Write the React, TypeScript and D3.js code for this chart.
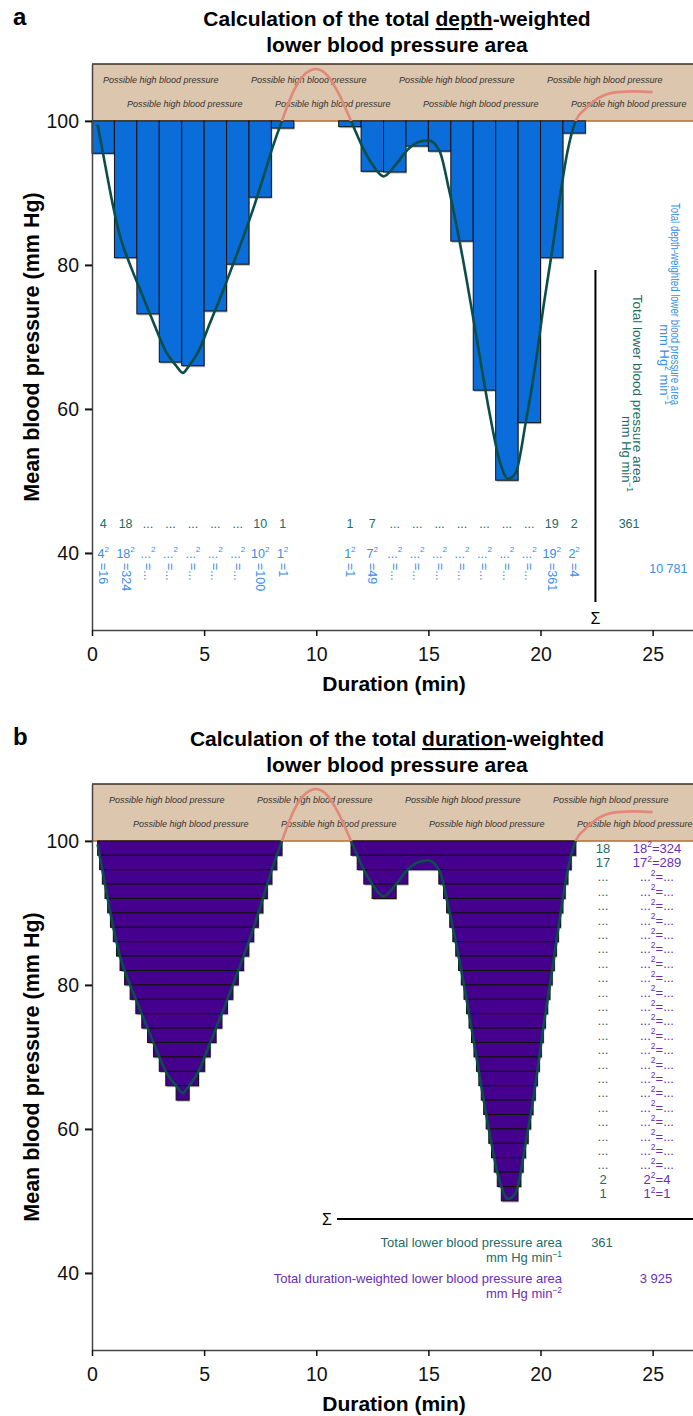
import React, { useEffect, useRef } from 'react';
import * as d3 from 'd3';

// blood pressure trace
const traceMin = [0.25, 0.46, 0.70, 0.95, 1.25, 1.70, 2.22, 2.74, 3.29, 3.75, 4.05, 4.33, 4.75, 5.27, 5.79, 6.28, 6.76, 7.21, 7.62, 8.02,
  8.47, 9.0, 9.5, 10.0, 10.5, 11.0, 11.55, 12.12, 12.49, 13.0, 13.56, 14.08, 14.5, 15.0, 15.5, 15.91, 16.51, 17.11, 17.70, 18.2,
  18.55, 18.89, 19.34, 19.79, 20.16, 20.53, 20.9, 21.2, 21.57, 21.94, 22.54, 23.43, 24.18, 25.0];
const traceBP = [99.5, 96, 92, 88, 84, 80, 76, 72, 68, 66, 65, 66, 68, 72, 76, 80, 84, 88, 92, 96,
  100, 104.2, 106.5, 107.2, 106.3, 103.8, 100, 96, 94, 92.3, 94, 96, 97.0, 97.3, 95.8, 90.6, 81.3, 70.6, 59.9, 52.5,
  50.3, 51.1, 58.1, 66.5, 74.8, 82.2, 90.1, 95.7, 100, 101.5, 103.1, 104.0, 104.1, 104.0];

// panel a: one-minute bars
const barStart = [0, 1, 2, 3, 4, 5, 6, 7, 8, 11, 12, 13, 14, 15, 16, 17, 18, 19, 20, 21];
const barBP = [95.5, 81.0, 73.2, 66.5, 66.0, 73.6, 80.1, 89.4, 99.0, 99.2, 93.0, 92.9, 96.5, 95.8, 83.3, 62.6, 50.1, 58.1, 81.0, 98.3];
const barDepth = ['4', '18', '...', '...', '...', '...', '...', '10', '1', '1', '7', '...', '...', '...', '...', '...', '...', '...', '19', '2'];
const barSquare = ['=16', '=324', '=...', '=...', '=...', '=...', '=...', '=100', '=1', '=1', '=49', '=...', '=...', '=...', '=...', '=...', '=...', '=...', '=361', '=4'];

// panel b: 2 mm Hg strips and their counts
const stripLevels = [100, 98, 96, 94, 92, 90, 88, 86, 84, 82, 80, 78, 76, 74, 72, 70, 68, 66, 64, 62, 60, 58, 56, 54, 52];
const stripCount = ['18', '17', '...', '...', '...', '...', '...', '...', '...', '...', '...', '...', '...', '...', '...', '...', '...', '...', '...', '...', '...', '...', '...', '2', '1'];
const stripSquare = ['324', '289', '...', '...', '...', '...', '...', '...', '...', '...', '...', '...', '...', '...', '...', '...', '...', '...', '...', '...', '...', '...', '...', '4', '1'];

const yTicks = [40, 60, 80, 100];
const xTicks = [0, 5, 10, 15, 20, 25];
const totalArea = '361';
const totalDepthWeighted = '10 781';
const totalDurationWeighted = '3 925';

const FONT = "'Liberation Sans', Arial, Helvetica, sans-serif";
const GREEN = '#236b64';
const BLUE = '#3a8de4';
const PURPLE = '#6a2db5';

const App = () => {
  const svgRef = useRef<SVGSVGElement>(null);

  useEffect(() => {
    document.body.style.margin = '0';
    const svg = d3.select(svgRef.current);
    svg.selectAll('*').remove();
    svg.attr('font-family', FONT);

    const x = d3.scaleLinear().domain([0, 26.8]).range([92, 693]);
    const defs = svg.append('defs');

    // text with superscripts: parts = [text, isSup]
    const supText = (g: any, px: number, py: number, parts: [string, boolean][], size: number, color: string, anchor = 'middle') => {
      const t = g.append('text').attr('x', px).attr('y', py).attr('text-anchor', anchor)
        .attr('font-size', size).attr('fill', color);
      const rise = size * 0.42;
      let raised = false;
      parts.forEach(([s, sup]) => {
        let dy = 0;
        if (sup && !raised) { dy = -rise; raised = true; }
        else if (!sup && raised) { dy = rise; raised = false; }
        t.append('tspan').attr('font-size', sup ? size * 0.65 : size).attr('dy', dy).text(s);
      });
      return t;
    };

    const panels = [{ off: 0, id: 'a' }, { off: 720, id: 'b' }];
    panels.forEach(p => {
      const y = d3.scaleLinear().domain([29.3, 107.9]).range([630 + p.off, 64 + p.off]);
      const yTop = y(107.9), y100 = y(100);

      const gBand = svg.append('g');
      const gMarks = svg.append('g');
      const gCurve = svg.append('g');
      const gText = svg.append('g');

      // panel letter and title
      gText.append('text').attr('x', 13).attr('y', 25 + p.off).attr('font-size', 24)
        .attr('font-weight', 'bold').text(p.id);
      const t1 = gText.append('text').attr('x', 397).attr('y', 26 + p.off).attr('text-anchor', 'middle')
        .attr('font-size', 21).attr('font-weight', 'bold');
      t1.append('tspan').text('Calculation of the total ');
      t1.append('tspan').style('text-decoration', 'underline').text(p.id === 'a' ? 'depth' : 'duration');
      t1.append('tspan').text('-weighted');
      gText.append('text').attr('x', 397).attr('y', 52 + p.off).attr('text-anchor', 'middle')
        .attr('font-size', 21).attr('font-weight', 'bold').text('lower blood pressure area');

      // high blood pressure band
      gBand.append('rect').attr('x', x(0)).attr('y', yTop).attr('width', 693 - x(0)).attr('height', y100 - yTop)
        .attr('fill', '#ddc6ae');
      gBand.append('line').attr('x1', x(0)).attr('x2', 693).attr('y1', yTop).attr('y2', yTop)
        .attr('stroke', '#3a2c20').attr('stroke-width', 1.5);
      gBand.append('line').attr('x1', x(0)).attr('x2', 693).attr('y1', y100).attr('y2', y100)
        .attr('stroke', '#b36b2c').attr('stroke-width', 1.5);
      const shift = p.id === 'a' ? 0 : 6;
      [0, 1, 2, 3].forEach(k => {
        gBand.append('text').attr('x', 103 + shift + k * 148).attr('y', yTop + 19)
          .attr('font-size', 9).attr('font-style', 'italic').attr('fill', '#333').text('Possible high blood pressure');
        gBand.append('text').attr('x', 127 + shift + k * 148).attr('y', yTop + 43)
          .attr('font-size', 9).attr('font-style', 'italic').attr('fill', '#333').text('Possible high blood pressure');
      });

      // axes
      const gy = svg.append('g').attr('transform', `translate(${x(0)},0)`)
        .call(d3.axisLeft(y).tickValues(yTicks).tickSize(7).tickPadding(6).tickSizeOuter(0).tickFormat(d3.format('d')));
      gy.attr('font-family', FONT).attr('font-size', 19.5);
      gy.select('.domain').attr('stroke', '#444').attr('stroke-width', 1.5);
      gy.selectAll('.tick line').attr('stroke', '#111').attr('stroke-width', 2);
      gy.selectAll('.tick text').attr('fill', '#111');

      const gx = svg.append('g').attr('transform', `translate(0,${y(29.3)})`)
        .call(d3.axisBottom(x).tickValues(xTicks).tickSize(6).tickPadding(11).tickSizeOuter(0));
      gx.attr('font-family', FONT).attr('font-size', 19.5);
      gx.select('.domain').attr('stroke', '#444').attr('stroke-width', 1.5);
      gx.selectAll('.tick line').attr('stroke', '#111').attr('stroke-width', 1.5);
      gx.selectAll('.tick text').attr('fill', '#111');

      gText.append('text').attr('transform', `translate(39,${(y(29.3) + yTop) / 2}) rotate(-90)`)
        .attr('text-anchor', 'middle').attr('font-size', 21.5).attr('font-weight', 'bold')
        .text('Mean blood pressure (mm Hg)');
      gText.append('text').attr('x', 394).attr('y', 691 + p.off).attr('text-anchor', 'middle')
        .attr('font-size', 21).attr('font-weight', 'bold').text('Duration (min)');

      // trace, dark below 100, pink above
      defs.append('clipPath').attr('id', `below-${p.id}`).append('rect')
        .attr('x', 0).attr('y', y100).attr('width', 693).attr('height', y(29.3) - y100);
      defs.append('clipPath').attr('id', `above-${p.id}`).append('rect')
        .attr('x', 0).attr('y', 0).attr('width', 693).attr('height', y100);
      const line = d3.line<number>().x((d, i) => x(traceMin[i])).y(d => y(d)).curve(d3.curveMonotoneX);
      const dark = gCurve.append('path').attr('d', line(traceBP)).attr('fill', 'none')
        .attr('stroke', '#0b4e49').attr('stroke-width', 2.6).attr('clip-path', `url(#below-${p.id})`);
      gCurve.append('path').attr('d', line(traceBP)).attr('fill', 'none')
        .attr('stroke', '#e2887a').attr('stroke-width', 2.6).attr('clip-path', `url(#above-${p.id})`);

      if (p.id === 'a') {
        const bw = x(1) - x(0);
        barStart.forEach((s, i) => {
          gMarks.append('rect').attr('x', x(s) + 1).attr('y', y100 + 1.5).attr('width', bw).attr('height', y(barBP[i]) - y100)
            .attr('fill', '#b5b5b5');
        });
        barStart.forEach((s, i) => {
          gMarks.append('rect').attr('x', x(s)).attr('y', y100).attr('width', bw).attr('height', y(barBP[i]) - y100)
            .attr('fill', '#0a6dd9').attr('stroke', '#111').attr('stroke-width', 1);
        });
        barStart.forEach((s, i) => {
          const cx = x(s + 0.5);
          gText.append('text').attr('x', cx).attr('y', 528).attr('text-anchor', 'middle')
            .attr('font-size', 12.5).attr('fill', GREEN).text(barDepth[i]);
          supText(gText, cx, 557.5, [[barDepth[i], false], ['2', true]], 12.5, BLUE);
          gText.append('text').attr('transform', `translate(${cx},563) rotate(90)`)
            .attr('dominant-baseline', 'central').attr('font-size', 12.5).attr('fill', BLUE).text(barSquare[i]);
        });

        // sums
        const sx = x(22.45);
        gText.append('line').attr('x1', sx).attr('x2', sx).attr('y1', 270).attr('y2', 602)
          .attr('stroke', '#000').attr('stroke-width', 2);
        gText.append('text').attr('x', sx).attr('y', 624).attr('text-anchor', 'middle').attr('font-size', 16).text('\u03a3');
        gText.append('text').attr('x', x(23.95)).attr('y', 528).attr('text-anchor', 'middle')
          .attr('font-size', 12.5).attr('fill', GREEN).text(totalArea);
        gText.append('text').attr('x', x(25.7)).attr('y', 573).attr('text-anchor', 'middle')
          .attr('font-size', 12.5).attr('fill', BLUE).text(totalDepthWeighted);

        gText.append('text').attr('transform', 'translate(633,483) rotate(90)').attr('text-anchor', 'end')
          .attr('font-size', 13.5).attr('fill', GREEN).text('Total lower blood pressure area');
        supText(gText, 0, 0, [['mm Hg min', false], ['\u22121', true]], 13, GREEN, 'end')
          .attr('transform', 'translate(622,492) rotate(90)');
        gText.append('text').attr('transform', 'translate(671,405) rotate(90)').attr('text-anchor', 'end')
          .attr('font-size', 13).attr('fill', BLUE).attr('textLength', 202).attr('lengthAdjust', 'spacingAndGlyphs')
          .text('Total depth-weighted lower blood pressure area');
        supText(gText, 0, 0, [['mm Hg', false], ['2', true], [' min', false], ['\u22121', true]], 13, BLUE, 'end')
          .attr('transform', 'translate(660,405) rotate(90)');
      } else {
        // sample the trace to find where it lies under each strip level
        const node = dark.node() as SVGPathElement;
        const len = node.getTotalLength();
        const pts = d3.range(0, 4001).map(i => node.getPointAtLength(len * i / 4000));
        const cross = (a: DOMPoint, b: DOMPoint, yl: number) => a.x + (b.x - a.x) * (yl - a.y) / (b.y - a.y);
        const strips: { x0: number; x1: number; L: number }[] = [];
        stripLevels.forEach(L => {
          const yl = y(L);
          let start: number | null = null;
          pts.forEach((pt, i) => {
            const below = pt.y > yl;
            if (below && start === null) start = i === 0 ? pt.x : cross(pts[i - 1], pt, yl);
            else if (!below && start !== null) {
              strips.push({ x0: start, x1: cross(pts[i - 1], pt, yl), L });
              start = null;
            }
          });
          if (start !== null) strips.push({ x0: start, x1: pts[pts.length - 1].x, L });
        });
        strips.forEach(s => {
          gMarks.append('rect').attr('x', s.x0 + 1).attr('y', y(s.L) + 1.5).attr('width', s.x1 - s.x0)
            .attr('height', y(s.L - 2) - y(s.L)).attr('fill', '#b5b5b5');
        });
        strips.forEach(s => {
          gMarks.append('rect').attr('x', s.x0).attr('y', y(s.L)).attr('width', s.x1 - s.x0)
            .attr('height', y(s.L - 2) - y(s.L)).attr('fill', '#45008e').attr('stroke', '#111').attr('stroke-width', 1);
        });

        stripLevels.forEach((L, i) => {
          const ty = y(L - 1) + 4.5;
          gText.append('text').attr('x', 603).attr('y', ty).attr('text-anchor', 'middle')
            .attr('font-size', 13).attr('fill', GREEN).text(stripCount[i]);
          supText(gText, 657, ty, [[stripCount[i], false], ['2', true], ['=' + stripSquare[i], false]], 13, PURPLE);
        });

        const sy = 1219;
        gText.append('text').attr('x', 327).attr('y', sy + 5.5).attr('text-anchor', 'middle').attr('font-size', 16).text('\u03a3');
        gText.append('line').attr('x1', 337).attr('x2', 693).attr('y1', sy).attr('y2', sy)
          .attr('stroke', '#000').attr('stroke-width', 2);
        gText.append('text').attr('x', 562).attr('y', 1246.5).attr('text-anchor', 'end')
          .attr('font-size', 13).attr('fill', GREEN).text('Total lower blood pressure area');
        supText(gText, 562, 1262, [['mm Hg min', false], ['\u22121', true]], 13, GREEN, 'end');
        gText.append('text').attr('x', 602).attr('y', 1246.5).attr('text-anchor', 'middle')
          .attr('font-size', 13).attr('fill', GREEN).text(totalArea);
        gText.append('text').attr('x', 562).attr('y', 1282.5).attr('text-anchor', 'end')
          .attr('font-size', 13).attr('fill', PURPLE).text('Total duration-weighted lower blood pressure area');
        supText(gText, 562, 1298, [['mm Hg min', false], ['\u22122', true]], 13, PURPLE, 'end');
        gText.append('text').attr('x', 656).attr('y', 1282.5).attr('text-anchor', 'middle')
          .attr('font-size', 13).attr('fill', PURPLE).text(totalDurationWeighted);
      }
    });
  }, []);

  return <svg ref={svgRef} width={693} height={1416} style={{ display: 'block' }}></svg>;
};

export default App;
